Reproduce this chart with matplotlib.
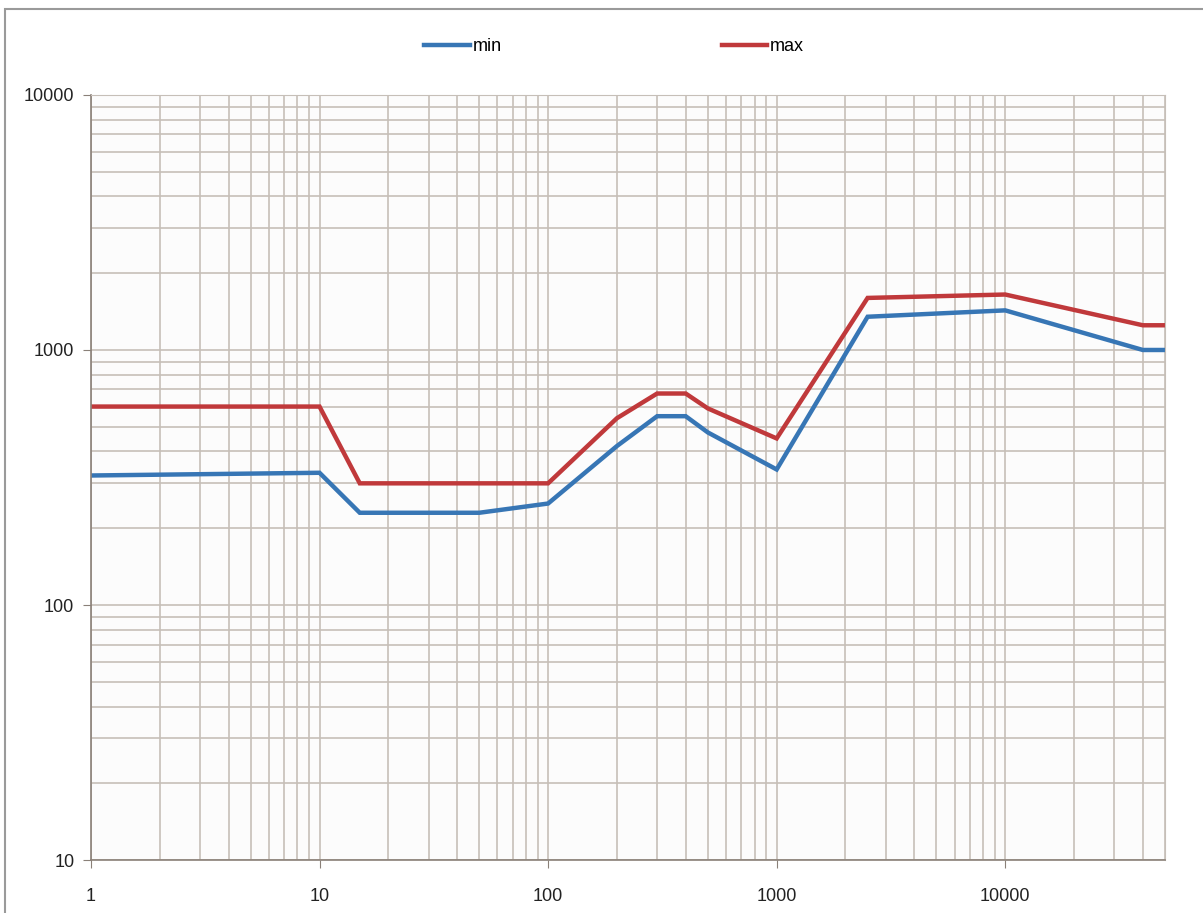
import matplotlib
matplotlib.use('Agg')
import matplotlib.pyplot as plt
from matplotlib.ticker import LogLocator, FixedFormatter, FixedLocator, NullFormatter
from matplotlib.patches import Rectangle

# data
x_max = [1, 10, 15, 100, 200, 300, 400, 500, 1000, 2500, 10000, 40000, 50000]
y_max = [600, 600, 300, 300, 540, 675, 675, 590, 450, 1600, 1650, 1250, 1250]

x_min = [1, 10, 15, 50, 100, 200, 300, 400, 500, 1000, 2500, 10000, 40000, 50000]
y_min = [322, 330, 230, 230, 250, 420, 550, 550, 475, 340, 1350, 1430, 1000, 1000]

x_ticks = [1, 10, 100, 1000, 10000]
y_ticks = [10, 100, 1000, 10000]

plt.rcParams['font.family'] = ['Liberation Sans', 'DejaVu Sans']

fig = plt.figure(figsize=(12.03, 9.13), dpi=100)
fig.patch.set_facecolor('white')
fig.patches.append(Rectangle((0.004, -0.01), 1.2, 1.0, transform=fig.transFigure,
                             fill=False, edgecolor='#9a9a9a', linewidth=1.5))

ax = fig.add_axes([0.0756, 0.058, 0.8928, 0.838])
ax.set_facecolor('#fcfcfc')
ax.set_xscale('log')
ax.set_yscale('log')
ax.set_xlim(1, 50000)
ax.set_ylim(10, 10000)

ax.plot(x_min, y_min, color='#3776b5', linewidth=3.2, label='min', solid_joinstyle='miter')
ax.plot(x_max, y_max, color='#c0393b', linewidth=3.2, label='max', solid_joinstyle='miter')

ax.xaxis.set_major_locator(FixedLocator(x_ticks))
ax.xaxis.set_major_formatter(FixedFormatter([str(v) for v in x_ticks]))
ax.xaxis.set_minor_locator(LogLocator(base=10, subs=range(2, 10), numticks=20))
ax.xaxis.set_minor_formatter(NullFormatter())
ax.yaxis.set_major_locator(FixedLocator(y_ticks))
ax.yaxis.set_major_formatter(FixedFormatter([str(v) for v in y_ticks]))
ax.yaxis.set_minor_locator(LogLocator(base=10, subs=range(2, 10), numticks=20))
ax.yaxis.set_minor_formatter(NullFormatter())

ax.grid(True, which='both', color='#c6bfb8', linewidth=1.2)
ax.set_axisbelow(True)
ax.tick_params(which='minor', length=0)
ax.tick_params(which='major', length=6, color='#8a8078', labelsize=13, labelcolor='#222222')
ax.tick_params(axis='x', pad=14)
ax.tick_params(axis='y', pad=6)

for side in ['top', 'right']:
    ax.spines[side].set_color('#c6bfb8')
for side in ['left', 'bottom']:
    ax.spines[side].set_color('#8a8078')
    ax.spines[side].set_linewidth(1.2)

ax.legend(loc='center', bbox_to_anchor=(0.487, 1.063), ncol=2, frameon=False,
          fontsize=13, handlelength=2.5, handletextpad=0.15, columnspacing=12.2)

plt.savefig('out.png', dpi=100)
